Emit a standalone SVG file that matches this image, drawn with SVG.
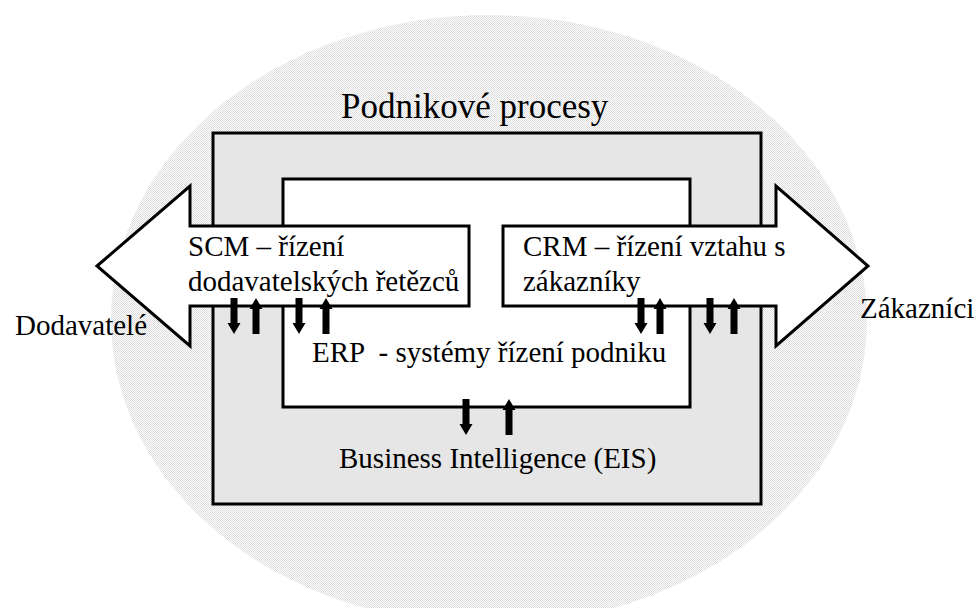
<svg xmlns="http://www.w3.org/2000/svg" width="978" height="608" viewBox="0 0 978 608">
  <style>
    .t { font-family: "Liberation Serif", "Times New Roman", serif; font-size: 29px; fill: #000; }
    .title { font-size: 35px; }
    .box { stroke: #000; stroke-width: 3; stroke-linejoin: miter; }
    .big { fill: #fff; stroke: #000; stroke-width: 3; stroke-linejoin: miter; }
    .flow { fill: #000; stroke: none; }
  </style>
  <defs>
    <pattern id="dots" width="2" height="2" patternUnits="userSpaceOnUse">
      <rect width="2" height="2" fill="#ffffff"/>
      <rect width="1" height="1" fill="#dcdcdc"/>
      <rect x="1" y="1" width="1" height="1" fill="#dcdcdc"/>
    </pattern>
    <path id="dn" d="M-3.5,0 H3.5 V25 H6.5 L0,36 L-6.5,25 H-3.5 Z"/>
    <path id="up" d="M0,0 L6.5,11 H3.5 V36 H-3.5 V11 H-6.5 Z"/>
  </defs>

  <rect width="978" height="608" fill="#ffffff"/>
  <g id="background">
    <ellipse cx="489" cy="320" rx="378" ry="305" fill="url(#dots)"/>
  </g>

  <g id="podnikove-procesy">
    <rect class="box" x="213" y="133" width="548" height="371" fill="#e6e6e6"/>
    <text class="t title" x="341" y="118">Podnikové procesy</text>
  </g>

  <g id="erp">
    <rect class="box" x="283" y="179" width="407" height="228" fill="#ffffff"/>
    <text class="t" x="312" y="362" xml:space="preserve">ERP  - systémy řízení podniku</text>
  </g>

  <g id="business-intelligence">
    <text class="t" x="339" y="468">Business Intelligence (EIS)</text>
  </g>

  <g id="scm">
    <polygon class="big" points="97,266 190,186 190,226 469,226 469,306 190,306 190,346"/>
    <text class="t" x="188" y="256">SCM – řízení</text>
    <text class="t" x="188" y="291">dodavatelských řetězců</text>
  </g>

  <g id="crm">
    <polygon class="big" points="503,226 776,226 776,186 868,266 776,346 776,306 503,306"/>
    <text class="t" x="523" y="256">CRM – řízení vztahu s</text>
    <text class="t" x="523" y="291">zákazníky</text>
  </g>

  <g id="dodavatele">
    <text class="t" x="15" y="335">Dodavatelé</text>
  </g>

  <g id="zakaznici">
    <text class="t" x="860" y="318">Zákazníci</text>
  </g>

  <g id="connectors" class="flow">
    <use href="#dn" x="234" y="298"/>
    <use href="#up" x="256" y="298"/>
    <use href="#dn" x="299" y="298"/>
    <use href="#up" x="326" y="298"/>
    <use href="#dn" x="641" y="298"/>
    <use href="#up" x="660" y="298"/>
    <use href="#dn" x="710" y="298"/>
    <use href="#up" x="734" y="298"/>
    <use href="#dn" x="466" y="399"/>
    <use href="#up" x="509" y="399"/>
  </g>
</svg>
